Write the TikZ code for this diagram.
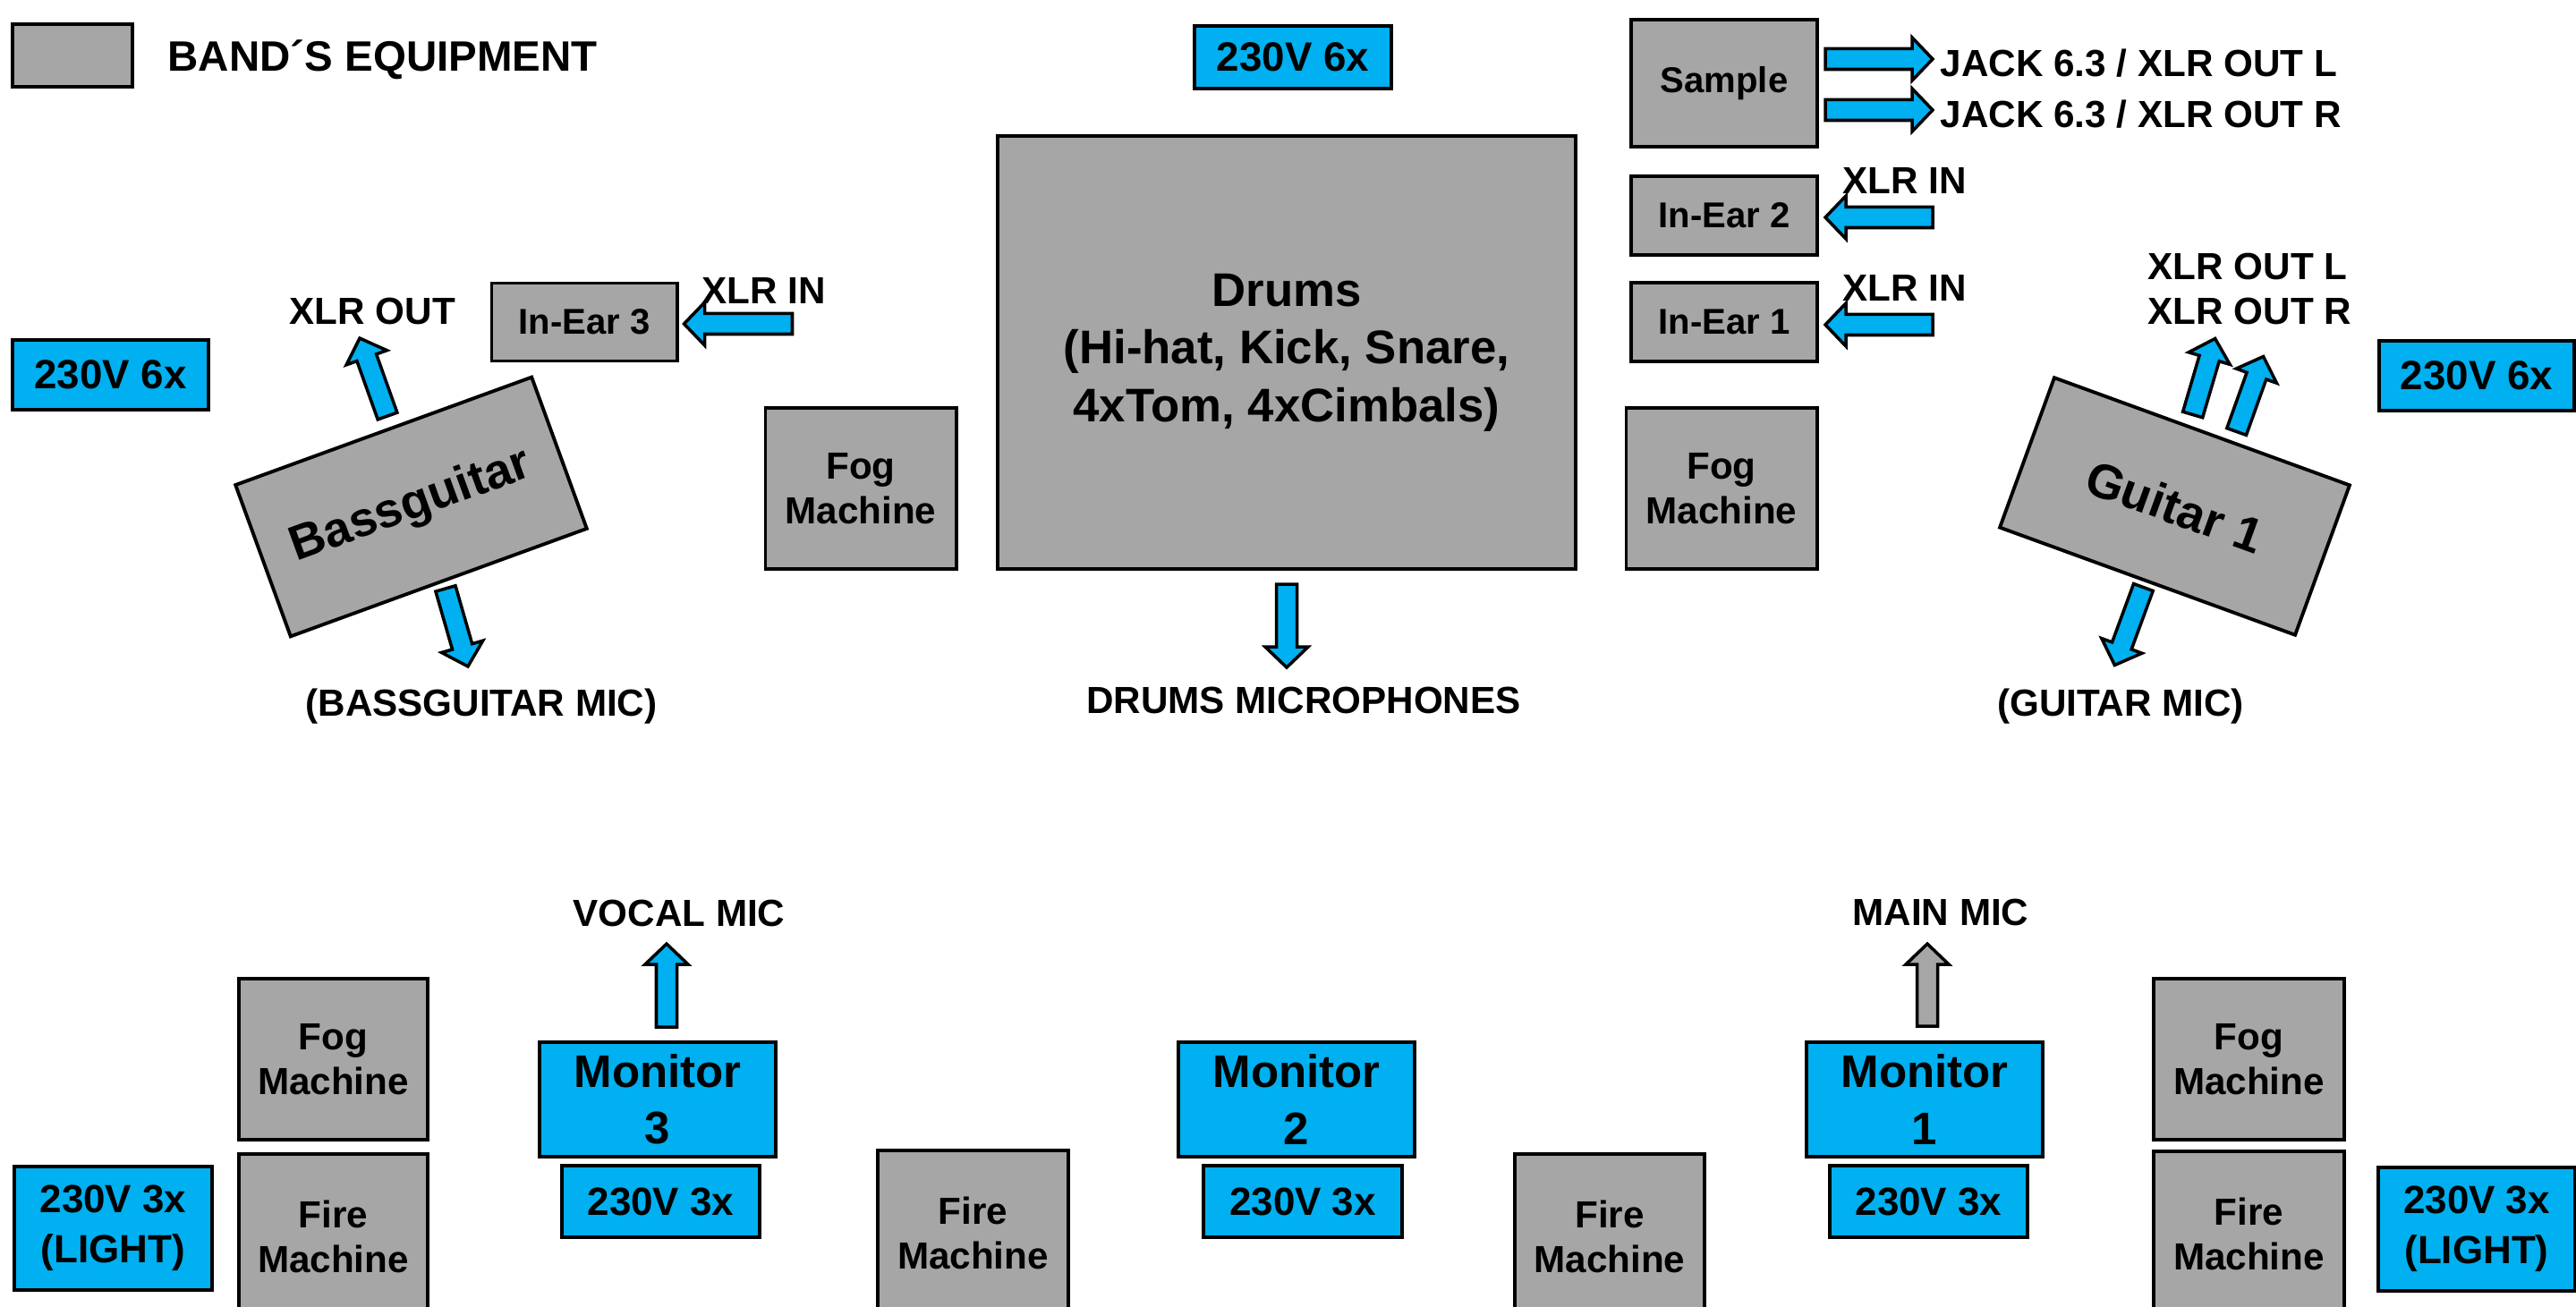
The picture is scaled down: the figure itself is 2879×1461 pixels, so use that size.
\documentclass[tikz,border=0pt]{standalone}
\usepackage{fontspec}
\setmainfont{Liberation Sans}
\usetikzlibrary{calc,positioning}
\definecolor{StageGray}{RGB}{166,166,166}
\definecolor{PowerBlue}{RGB}{0,176,240}
\newcommand{\blockarrow}[3][PowerBlue]{%
  \path ($(#3)!0.23cm!(#2)$) coordinate (hb);
  \draw[fill=#1,line width=1pt,line join=miter]
    ($(#2)!0.115cm!90:(#3)$) -- ($(hb)!0.115cm!90:(#3)$) -- ($(hb)!0.24cm!90:(#3)$)
    -- (#3) -- ($(hb)!0.24cm!-90:(#3)$) -- ($(hb)!0.115cm!-90:(#3)$)
    -- ($(#2)!0.115cm!-90:(#3)$) -- cycle;}

\begin{document}
\begin{tikzpicture}[x=0.01cm,y=-0.01cm,
    bandbox/.style={draw,line width=1.1pt,fill=StageGray,inner sep=0pt,align=center,
      font=\bfseries\fontsize{12}{14.2}\selectfont},
    powerbox/.style={bandbox,fill=PowerBlue,font=\bfseries\fontsize{12.5}{16}\selectfont},
    lbl/.style={inner sep=0pt,align=left,font=\bfseries\fontsize{12}{14.5}\selectfont}]
  \clip (0,0) rectangle (2879,1461);
  \node[bandbox,minimum width=1.34cm,minimum height=0.7cm] (legend) at (81,62) {};
  \node[lbl,anchor=base west,font=\bfseries\fontsize{13.5}{15}\selectfont] (legendtxt) at (187,80) {BAND´S EQUIPMENT};
  \node[powerbox,minimum width=2.2cm,minimum height=0.7cm,font=\bfseries\fontsize{13}{15}\selectfont] (pwrtop) at (1445,64) {230V 6x};
  \node[powerbox,minimum width=2.19cm,minimum height=0.78cm,font=\bfseries\fontsize{13}{15}\selectfont] (pwrleft) at (123.5,419) {230V 6x};
  \node[powerbox,minimum width=2.18cm,minimum height=0.78cm,font=\bfseries\fontsize{13}{15}\selectfont] (pwrright) at (2768,420) {230V 6x};

  \node[bandbox,minimum width=6.45cm,minimum height=4.84cm,font=\bfseries\fontsize{15}{18.3}\selectfont] (drums) at (1438,394)
    {Drums\\(Hi-hat, Kick, Snare,\\4xTom, 4xCimbals)};
  \node[bandbox,minimum width=2.08cm,minimum height=1.42cm,font=\bfseries\fontsize{11.4}{14}\selectfont] (sample) at (1927,93) {Sample};
  \node[bandbox,minimum width=2.08cm,minimum height=0.88cm,font=\bfseries\fontsize{11.4}{14}\selectfont] (inear2) at (1927,241) {In-Ear 2};
  \node[bandbox,minimum width=2.08cm,minimum height=0.88cm,font=\bfseries\fontsize{11.4}{14}\selectfont] (inear1) at (1927,360) {In-Ear 1};
  \node[bandbox,minimum width=2.07cm,minimum height=0.87cm,font=\bfseries\fontsize{11.4}{14}\selectfont] (inear3) at (653,360) {In-Ear 3};
  \node[bandbox,minimum width=2.13cm,minimum height=1.8cm] (fogl) at (962,546) {Fog\\Machine};
  \node[bandbox,minimum width=2.13cm,minimum height=1.8cm] (fogr) at (1924,546) {Fog\\Machine};
  \node[bandbox,minimum width=3.52cm,minimum height=1.8cm,rotate=20,font=\bfseries\fontsize{15.5}{18}\selectfont] (bass) at (459.5,566.5) {Bassguitar};
  \node[bandbox,minimum width=3.51cm,minimum height=1.78cm,rotate=-20,font=\bfseries\fontsize{15.5}{18}\selectfont] (guitar) at (2430.5,566) {Guitar 1};

  \node[lbl,anchor=base west] (jackl) at (2168,86) {JACK 6.3 / XLR OUT L};
  \node[lbl,anchor=base west] (jackr) at (2168,143) {JACK 6.3 / XLR OUT R};
  \node[lbl,anchor=base west] (xlrin2) at (2059,217) {XLR IN};
  \node[lbl,anchor=base west] (xlrin1) at (2059,337) {XLR IN};
  \node[lbl,anchor=base west] (xlrin3) at (784,340) {XLR IN};
  \node[lbl,anchor=base west] (bassout) at (323,363) {XLR OUT};
  \node[lbl,anchor=base west] (gtrout) at (2400,363) {XLR OUT L\\XLR OUT R};
  \node[lbl,anchor=base] (bassmic) at (538,800) {(BASSGUITAR MIC)};
  \node[lbl,anchor=base] (drummic) at (1457,797) {DRUMS MICROPHONES};
  \node[lbl,anchor=base] (gtrmic) at (2370,800) {(GUITAR MIC)};

  \node[bandbox,minimum width=2.11cm,minimum height=1.8cm] (fogbl) at (372.5,1184) {Fog\\Machine};
  \node[bandbox,minimum width=2.11cm,minimum height=1.84cm] (firebl) at (372.5,1382) {Fire\\Machine};
  \node[powerbox,minimum width=2.21cm,minimum height=1.38cm] (lightl) at (126.5,1373) {230V 3x\\(LIGHT)};
  \node[powerbox,minimum width=2.64cm,minimum height=1.28cm,font=\bfseries\fontsize{14.5}{18}\selectfont] (mon3) at (735,1229) {Monitor\\3};
  \node[powerbox,minimum width=2.21cm,minimum height=0.8cm] (pwr3) at (738.5,1343) {230V 3x};
  \node[bandbox,minimum width=2.13cm,minimum height=1.84cm] (fireml) at (1087.5,1378) {Fire\\Machine};
  \node[powerbox,minimum width=2.64cm,minimum height=1.28cm,font=\bfseries\fontsize{14.5}{18}\selectfont] (mon2) at (1449,1229) {Monitor\\2};
  \node[powerbox,minimum width=2.22cm,minimum height=0.8cm] (pwr2) at (1456,1343) {230V 3x};
  \node[bandbox,minimum width=2.12cm,minimum height=1.84cm] (firemr) at (1799,1382) {Fire\\Machine};
  \node[powerbox,minimum width=2.64cm,minimum height=1.28cm,font=\bfseries\fontsize{14.5}{18}\selectfont] (mon1) at (2151,1229) {Monitor\\1};
  \node[powerbox,minimum width=2.21cm,minimum height=0.8cm] (pwr1) at (2155.5,1343) {230V 3x};
  \node[bandbox,minimum width=2.13cm,minimum height=1.8cm] (fogbr) at (2513.5,1184) {Fog\\Machine};
  \node[bandbox,minimum width=2.13cm,minimum height=1.84cm] (firebr) at (2513.5,1379) {Fire\\Machine};
  \node[powerbox,minimum width=2.2cm,minimum height=1.38cm] (lightr) at (2768,1374) {230V 3x\\(LIGHT)};
  \node[lbl,anchor=base] (vocal) at (759,1035) {VOCAL MIC};
  \node[lbl,anchor=base] (mainmic) at (2169,1034) {MAIN MIC};

  \path ($(drums.south)+(0,15)$) coordinate (dr1) ++(0,93) coordinate (dr2);
  \blockarrow{dr1}{dr2}
  \path ($(sample.east)+(7,-27)$) coordinate (sl1) ++(120,0) coordinate (sl2);
  \blockarrow{sl1}{sl2}
  \path ($(sample.east)+(7,30)$) coordinate (sr1) ++(120,0) coordinate (sr2);
  \blockarrow{sr1}{sr2}
  \path ($(inear2.east)+(127,2)$) coordinate (ie2a) ++(-120,0) coordinate (ie2b);
  \blockarrow{ie2a}{ie2b}
  \path ($(inear1.east)+(127,3)$) coordinate (ie1a) ++(-120,0) coordinate (ie1b);
  \blockarrow{ie1a}{ie1b}
  \path ($(inear3.east)+(127,2)$) coordinate (ie3a) ++(-121,0) coordinate (ie3b);
  \blockarrow{ie3a}{ie3b}
  \path ($(bass.north)+(5,-15)$) coordinate (bo1) ++(-31,-87) coordinate (bo2);
  \blockarrow{bo1}{bo2}
  \path ($(bass.south)+(7,5)$) coordinate (bm1) ++(25,87) coordinate (bm2);
  \blockarrow{bm1}{bm2}
  \path ($(guitar.north)+(-11,-17)$) coordinate (go1) ++(25,-85) coordinate (go2);
  \blockarrow{go1}{go2}
  \path ($(guitar.north)+(38,2)$) coordinate (go3) ++(30,-84) coordinate (go4);
  \blockarrow{go3}{go4}
  \path ($(guitar.south)+(-4,5)$) coordinate (gm1) ++(-32,87) coordinate (gm2);
  \blockarrow{gm1}{gm2}
  \path ($(mon3.north)+(10,-15)$) coordinate (vm1) ++(0,-93) coordinate (vm2);
  \blockarrow{vm1}{vm2}
  \path ($(mon1.north)+(3,-16)$) coordinate (mm1) ++(0,-92) coordinate (mm2);
  \blockarrow[StageGray]{mm1}{mm2}
\end{tikzpicture}
\end{document}
